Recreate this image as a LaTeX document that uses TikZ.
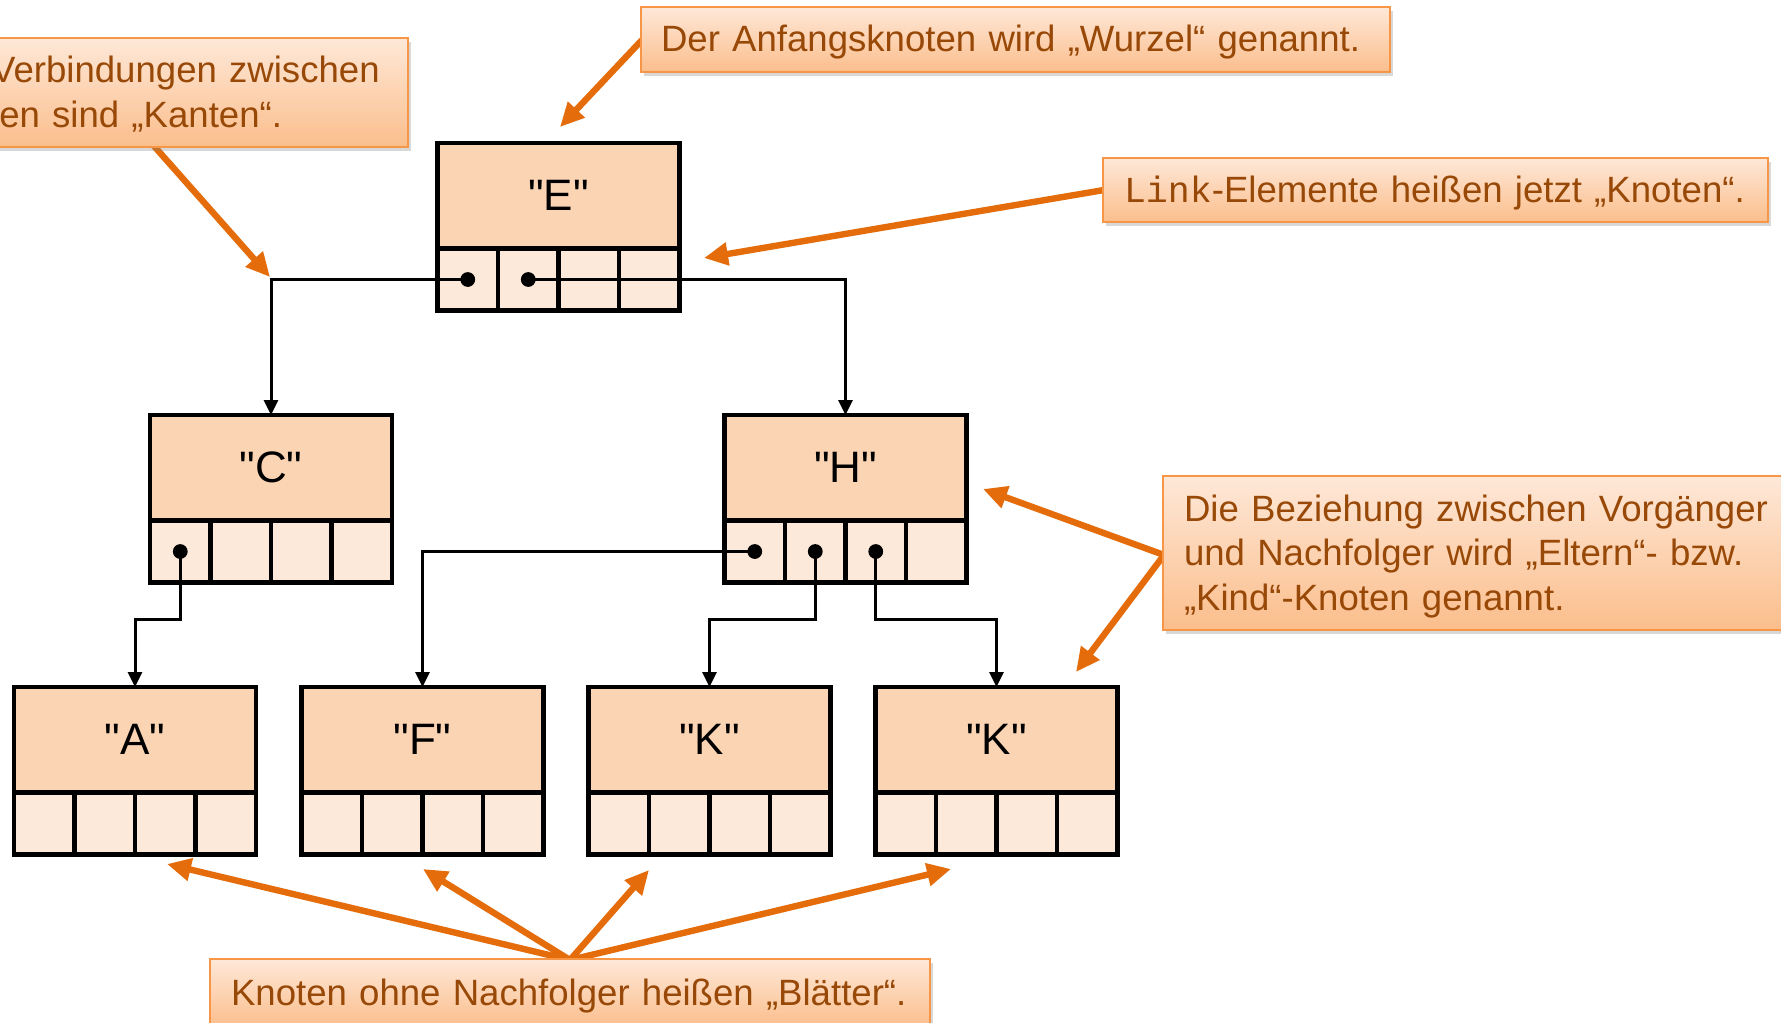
\documentclass[tikz,border=0pt]{standalone}
\usepackage{fontspec}
\setmainfont{Liberation Sans}
\newfontfamily\codefont{Liberation Mono}
\newfontfamily\labelfont{Liberation Sans}[Ligatures=TeXOff]
\usetikzlibrary{arrows.meta,shadows,calc}

\definecolor{valfill}{HTML}{FBD4B4}
\definecolor{cellfill}{HTML}{FDE9D9}
\definecolor{calltext}{HTML}{984807}
\definecolor{callborder}{HTML}{F79646}
\definecolor{calltop}{HTML}{FEE8D8}
\definecolor{callbottom}{HTML}{FBBE8C}
\definecolor{callarrowc}{HTML}{E46C0A}

% one list node: value field on top, four link cells below
% #1 name, #2 x, #3 y (top left corner), #4 value
\newcommand{\listnode}[4]{%
  \node[valbox, anchor=north west] (#1) at (#2,#3) {#4};
  \node[cellbox, anchor=north west] (#1-1) at (#1.south west) {};
  \node[cellbox, anchor=north west] (#1-2) at (#1-1.north east) {};
  \node[cellbox, anchor=north west] (#1-3) at (#1-2.north east) {};
  \node[cellbox, anchor=north west] (#1-4) at (#1-3.north east) {};
}

\begin{document}
\begin{tikzpicture}[x=0.5pt,y=0.5pt,
  valbox/.style={draw, line width=2.3pt, fill=valfill, rectangle, inner sep=0pt,
    outer sep=0pt, minimum width=121pt, minimum height=52.75pt,
    font=\labelfont\fontsize{22}{26}\selectfont},
  cellbox/.style={draw, line width=2.3pt, fill=cellfill, rectangle, inner sep=0pt,
    outer sep=0pt, minimum width=30.25pt, minimum height=31pt},
  ptr/.style={circle, fill=black, inner sep=0pt, minimum size=7.4pt},
  treelink/.style={line width=1.5pt, -{Triangle[length=7.5pt,width=7pt]}},
  callout/.style={draw=callborder, line width=1pt, top color=calltop,
    bottom color=callbottom,
    drop shadow={shadow xshift=1.5pt, shadow yshift=-1.8pt, opacity=0.3},
    rectangle, inner sep=0pt, outer sep=0pt, anchor=north west},
  calltextnode/.style={inner sep=0pt, outer sep=0pt, text width=460pt,
    align=left, anchor=base west, text=calltext,
    font=\fontsize{18.3}{22.3}\selectfont},
  callarrow/.style={line width=3.2pt, draw=callarrowc,
    -{Triangle[length=12pt,width=11pt]}},
]
\useasboundingbox (0,0) rectangle (1781,-1022);
\clip (0,0) rectangle (1781,-1022);
\fill[white] (0,0) rectangle (1781,-1022);

% tree of list nodes
\listnode{E}{437.5}{-143}{"E"}
\listnode{C}{150}{-415}{"C"}
\listnode{H}{724.5}{-415}{"H"}
\listnode{A}{14}{-687}{"A"}
\listnode{F}{301.5}{-687}{"F"}
\listnode{K1}{588.5}{-687}{"K"}
\listnode{K2}{875.5}{-687}{"K"}

% pointer dots in the link cells
\node[ptr] (E-p1) at (E-1) {};
\node[ptr] (E-p2) at (E-2) {};
\node[ptr] (C-p1) at (C-1) {};
\node[ptr] (H-p1) at (H-1) {};
\node[ptr] (H-p2) at (H-2) {};
\node[ptr] (H-p3) at (H-3) {};

% edges
\coordinate (lvl2) at (0,-619);
\draw[treelink] (E-p1.center) -| (C.north);
\draw[treelink] (E-p2.center) -| (H.north);
\draw[treelink] (C-p1.center) |- (A.north |- lvl2) -- (A.north);
\draw[treelink] (H-p1.center) -| (F.north);
\draw[treelink] (H-p2.center) |- (K1.north |- lvl2) -- (K1.north);
\draw[treelink] (H-p3.center) |- (K2.north |- lvl2) -- (K2.north);

% callout arrows (drawn first, their tails disappear under the boxes)
\coordinate (tipE) at (560,-127);
\coordinate (tipLink) at (704,-258);
\coordinate (tipEdge) at (270,-277);
\coordinate (tipParent) at (983,-489);
\coordinate (tipChild) at (1076,-672);
\coordinate (tipA) at (167,-864);
\coordinate (tipF) at (423,-869);
\coordinate (tipK1) at (649,-870);
\coordinate (tipK2) at (951,-869);

\coordinate (wurzelTail) at (642,-40);
\coordinate (linkTail) at (1104,-190);
\coordinate (kantenTail) at (154,-146);
\coordinate (elternTail) at (1164,-555);
\coordinate (blaetterTail) at (570,-960);

\draw[callarrow] (wurzelTail) -- (tipE);
\draw[callarrow] (linkTail) -- (tipLink);
\draw[callarrow] (kantenTail) -- (tipEdge);
\draw[callarrow] (elternTail) -- (tipParent);
\draw[callarrow] (elternTail) -- (tipChild);
\draw[callarrow] (blaetterTail) -- (tipA);
\draw[callarrow] (blaetterTail) -- (tipF);
\draw[callarrow] (blaetterTail) -- (tipK1);
\draw[callarrow] (blaetterTail) -- (tipK2);

% callout boxes
\node[callout, minimum width=374.5pt, minimum height=32.5pt] (wurzel) at (641,-7) {};
\node[callout, minimum width=332.5pt, minimum height=32pt] (link) at (1103,-158) {};
\node[callout, minimum width=253pt, minimum height=54.5pt] (kanten) at (-98,-38) {};
\node[callout, minimum width=345pt, minimum height=77pt] (eltern) at (1163,-476) {};
\node[callout, minimum width=360pt, minimum height=34pt] (blaetter) at (210,-959) {};

% callout texts, placed on their baselines
\node[calltextnode] (wurzel-t) at (661,-52) {Der Anfangsknoten wird „Wurzel“ genannt.};
\node[calltextnode] (link-t) at (1124,-202) {{\codefont Link}-Elemente heißen jetzt „Knoten“.};
\node[calltextnode] (kanten-t) at (-76,-83) {Die Verbindungen zwischen\\Knoten sind „Kanten“.};
\node[calltextnode] (eltern-t) at (1184,-521) {Die Beziehung zwischen Vorgänger\\und Nachfolger wird „Eltern“- bzw.\\„Kind“-Knoten genannt.};
\node[calltextnode] (blaetter-t) at (231,-1005) {Knoten ohne Nachfolger heißen „Blätter“.};
\end{tikzpicture}
\end{document}
